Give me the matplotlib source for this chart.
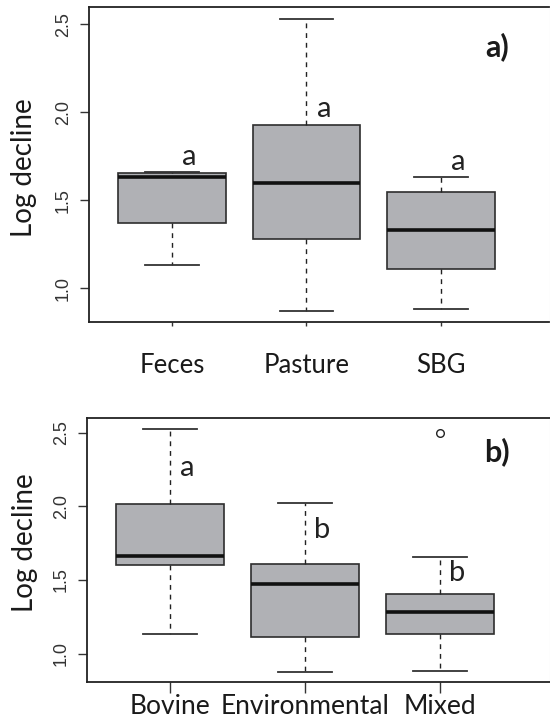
import numpy as np
import matplotlib.pyplot as plt

# panel a: by source
groups_a = ['Feces', 'Pasture', 'SBG']
lo_a = [1.132, 0.871, 0.882]
q1_a = [1.373, 1.278, 1.108]
med_a = [1.632, 1.600, 1.331]
q3_a = [1.653, 1.928, 1.547]
hi_a = [1.659, 2.528, 1.634]
fliers_a = [[], [], []]
letters_a = ['a', 'a', 'a']
letter_y_a = [1.748, 2.019, 1.716]

# panel b: by host
groups_b = ['Bovine', 'Environmental', 'Mixed']
lo_b = [1.133, 0.876, 0.882]
q1_b = [1.604, 1.113, 1.131]
med_b = [1.663, 1.470, 1.282]
q3_b = [2.018, 1.611, 1.407]
hi_b = [2.527, 2.020, 1.654]
fliers_b = [[], [], [2.50]]
letters_b = ['a', 'b', 'b']
letter_y_b = [2.262, 1.837, 1.545]

yticks = [1.0, 1.5, 2.0, 2.5]
txt_font = 'Lato'
num_font = 'Liberation Sans'


def draw_panel(ax, names, lo, q1, med, q3, hi, fliers, letters, letter_y, tag,
               xlim, xtick_len, xpad, xsize):
    stats = []
    for i in range(len(names)):
        stats.append(dict(label=names[i], whislo=lo[i], q1=q1[i], med=med[i],
                          q3=q3[i], whishi=hi[i], fliers=fliers[i]))
    ax.bxp(stats, positions=[1, 2, 3], widths=0.8, patch_artist=True,
           boxprops=dict(facecolor='#b0b1b5', edgecolor='#2e2e2e', linewidth=1.2),
           medianprops=dict(color='#111111', linewidth=2.6),
           whiskerprops=dict(color='#222222', linewidth=1.0, linestyle=(0, (3.5, 3.5))),
           capprops=dict(color='#333333', linewidth=1.3),
           flierprops=dict(marker='o', markersize=5.5, markerfacecolor='none',
                           markeredgecolor='#222222', markeredgewidth=1.0))
    for i, l in enumerate(letters):
        ax.text(i + 1 + 0.13, letter_y[i], l, fontsize=21, family=txt_font,
                ha='center', va='center', color='#222222')
    ax.text(3.42, 2.37, tag, fontsize=22, family=txt_font, fontweight='bold',
            ha='center', va='center', color='#1a1a1a')
    ax.set_xlim(*xlim)
    ax.set_ylim(0.809, 2.598)
    ax.set_yticks(yticks)
    ax.set_yticklabels([f'{v:.1f}' for v in yticks], rotation=90, va='center',
                       family=num_font, fontsize=13, color='#333333')
    ax.set_xticks([1, 2, 3])
    ax.set_xticklabels(names, family=txt_font, fontsize=xsize, color='#1a1a1a')
    ax.tick_params(axis='y', length=6.5, width=1.0, pad=6, color='#333333')
    ax.tick_params(axis='x', length=xtick_len, width=1.0, pad=xpad, color='#333333')
    ax.set_ylabel('Log decline', family=txt_font, fontsize=20, color='#1a1a1a')
    for s in ['left', 'top', 'bottom']:
        ax.spines[s].set_color('#222222')
        ax.spines[s].set_linewidth(1.3)
    ax.spines['right'].set_color('#dddddd')
    ax.spines['right'].set_linewidth(0.8)


fig = plt.figure(figsize=(5.5, 7.22), dpi=100)
ax1 = fig.add_axes([89 / 550, 1 - 322 / 722, 460.5 / 550, 315 / 722])
ax2 = fig.add_axes([87 / 550, 1 - 681.7 / 722, 462.5 / 550, 263.4 / 722])

draw_panel(ax1, groups_a, lo_a, q1_a, med_a, q3_a, hi_a, fliers_a, letters_a,
           letter_y_a, 'a)', (0.383, 3.807), 3, 19, 18.5)
draw_panel(ax2, groups_b, lo_b, q1_b, med_b, q3_b, hi_b, fliers_b, letters_b,
           letter_y_b, 'b)', (0.385, 3.811), 8, 1, 19)

ax1.yaxis.set_label_coords(-0.112, 0.49)
ax2.yaxis.set_label_coords(-0.106, 0.527)

fig.savefig('out.png', dpi=100)
